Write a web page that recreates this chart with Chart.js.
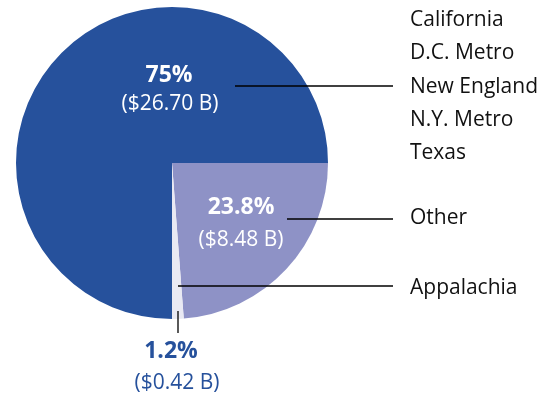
<!DOCTYPE html>
<html>
<head>
<meta charset="utf-8">
<script src="https://cdn.jsdelivr.net/npm/chart.js@4"></script>
<style>
  html, body { margin: 0; padding: 0; background: #fff; }
  #wrap { position: relative; width: 551px; height: 400px; }
</style>
</head>
<body>
<div id="wrap"><canvas id="myChart" width="551" height="400"></canvas></div>
<script>
// slices, clockwise from 3 o'clock
var sliceNames = ['Other', 'Appalachia', 'Top five']
var slicePct = [23.8, 1.2, 75]
var sliceAmount = ['($8.48 B)', '($0.42 B)', '($26.70 B)']
var sliceColors = ['#8E92C6', '#E9E9F3', '#26519C']
var pctText = ['23.8%', '1.2%', '75%']
// legend groups on the right
var topFive = ['California', 'D.C. Metro', 'New England', 'N.Y. Metro', 'Texas']

var FONT = '"Open Sans", sans-serif'

var calloutPlugin = {
  id: 'callouts',
  afterDraw: function (chart) {
    var ctx = chart.ctx
    ctx.save()
    ctx.strokeStyle = '#000'
    ctx.lineWidth = 1.3
    function line(x1, y1, x2, y2) {
      ctx.beginPath(); ctx.moveTo(x1, y1); ctx.lineTo(x2, y2); ctx.stroke()
    }
    line(235, 86, 393, 86)
    line(287, 219, 393, 219)
    line(178, 286, 393, 286)
    line(178, 311, 178, 333)

    ctx.textBaseline = 'middle'
    ctx.textAlign = 'center'
    // in-slice labels
    ctx.fillStyle = '#fff'
    ctx.font = 'bold 23px ' + FONT
    ctx.fillText(pctText[2], 169, 75)
    ctx.fillText(pctText[0], 241, 207)
    ctx.font = '21px ' + FONT
    ctx.fillText(sliceAmount[2], 170, 104)
    ctx.fillText(sliceAmount[0], 241, 240)
    // Appalachia label under the pie
    ctx.fillStyle = sliceColors[2]
    ctx.font = 'bold 23px ' + FONT
    ctx.fillText(pctText[1], 171, 351)
    ctx.font = '21px ' + FONT
    ctx.fillText(sliceAmount[1], 177, 383)

    // right side names
    ctx.fillStyle = '#111'
    ctx.textAlign = 'left'
    ctx.font = '21px ' + FONT
    var ys = [20, 53, 87, 120, 153]
    topFive.forEach(function (n, i) { ctx.fillText(n, 410, ys[i]) })
    ctx.fillText(sliceNames[0], 410, 218)
    ctx.fillText(sliceNames[1], 410, 288)
    ctx.restore()
  }
}

var ctx = document.getElementById('myChart').getContext('2d')
var chart = new Chart(ctx, {
  type: 'pie',
  data: {
    labels: sliceNames,
    datasets: [{
      data: slicePct,
      backgroundColor: sliceColors,
      borderWidth: 0,
      hoverOffset: 0
    }]
  },
  options: {
    responsive: false,
    animation: false,
    rotation: 90,
    events: [],
    layout: { padding: { left: 16, top: 7, right: 223, bottom: 81 } },
    plugins: { legend: { display: false }, tooltip: { enabled: false } }
  },
  plugins: [calloutPlugin]
})
</script>
</body>
</html>
